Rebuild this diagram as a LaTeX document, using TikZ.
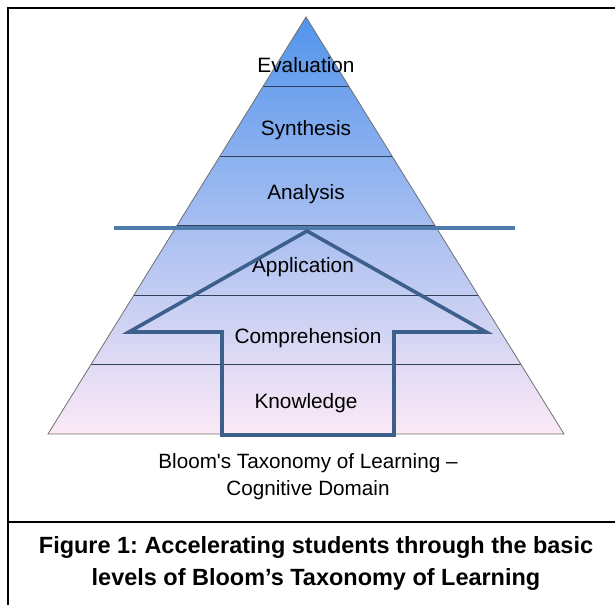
\documentclass[tikz,border=0pt]{standalone}
\usepackage{fontspec}
\setmainfont{Liberation Sans}
\usetikzlibrary{calc}
\definecolor{pyrtop}{HTML}{5294EC}
\definecolor{pyrmid}{HTML}{9CC4F2}
\definecolor{pyrbot}{HTML}{FCE9F6}
\definecolor{divc}{HTML}{34405A}
\definecolor{edgec}{HTML}{707070}
\definecolor{barc}{HTML}{4F7CAB}
\definecolor{arrc}{HTML}{3D5F8C}
\begin{document}
\frenchspacing
\begin{tikzpicture}[x=0.75pt,y=-0.75pt,
  level/.style={font=\fontsize{15.6}{18}\selectfont, inner sep=0pt, text=black},
  note/.style={font=\fontsize{15.5}{18}\selectfont, inner sep=0pt, text=black},
  figcap/.style={font=\bfseries\fontsize{17.6}{20}\selectfont, inner sep=0pt, text=black},
  divider/.style={draw=divc, line width=0.6pt},
  edge/.style={draw=edgec, line width=0.6pt},
  bar/.style={draw=barc, line width=2.3pt},
  uparrow/.style={draw=arrc, line width=2.7pt, line join=miter},
  frame/.style={draw=black, line width=1.5pt},
  thinframe/.style={draw=black, line width=0.9pt}]
\useasboundingbox (0,0) rectangle (615,605);
% pyramid
\coordinate (apex) at (306,17);
\coordinate (bl) at (48,434);
\coordinate (br) at (564,434);
\shade[top color=pyrtop, middle color=pyrmid, bottom color=pyrbot] (apex)--(bl)--(br)--cycle;
\foreach \k in {1,...,5}
  \draw[divider] ($(apex)!{\k/6}!(bl)$) -- ($(apex)!{\k/6}!(br)$);
\draw[edge] (apex)--(bl)--(br)--cycle;
% levels
\node[level] (eval) at (306,65) {Evaluation};
\node[level] (synth) at (306,130) {Synthesis};
\node[level] (anal) at (306,194) {Analysis};
\node[level] (appl) at (303,267) {Application};
\node[level] (comp) at (308,338) {Comprehension};
\node[level] (know) at (306,403) {Knowledge};
% horizontal bar
\coordinate (barL) at (114,228);
\coordinate (barR) at (515,228);
\draw[bar] (barL) -- (barR);
% arrow outline
\coordinate (tip) at (307,231);
\coordinate (hl) at (129,332);
\coordinate (sl) at (222,332);
\coordinate (sbl) at (222,435);
\coordinate (sbr) at (394,435);
\coordinate (sr) at (394,332);
\coordinate (hr) at (486,332);
\draw[uparrow] (tip) -- (hl) -- (sl) -- (sbl) -- (sbr) -- (sr) -- (hr) -- cycle;
% captions
\node[note] (cap1) at (308,463) {Bloom\textquotesingle s Taxonomy of Learning –};
\node[note] (cap2) at (308,490) {Cognitive Domain};
\node[figcap] (fig1) at (316,547) {Figure 1: Accelerating students through the basic};
\node[figcap] (fig2) at (316,579) {levels of Bloom’s Taxonomy of Learning};
% frame
\coordinate (ftl) at (8,8);
\coordinate (ftr) at (615,8);
\coordinate (fbl) at (8,605);
\coordinate (fml) at (8,522);
\coordinate (fmr) at (615,522);
\draw[frame] (fbl) -- (ftl);
\draw[thinframe] (ftl) -- (ftr);
\draw[frame] (7.25,8.5) -- (25,8.5);
\draw[frame] (604,8.5) -- (615,8.5);
\draw[frame] (fml) -- (fmr);
\end{tikzpicture}
\end{document}
